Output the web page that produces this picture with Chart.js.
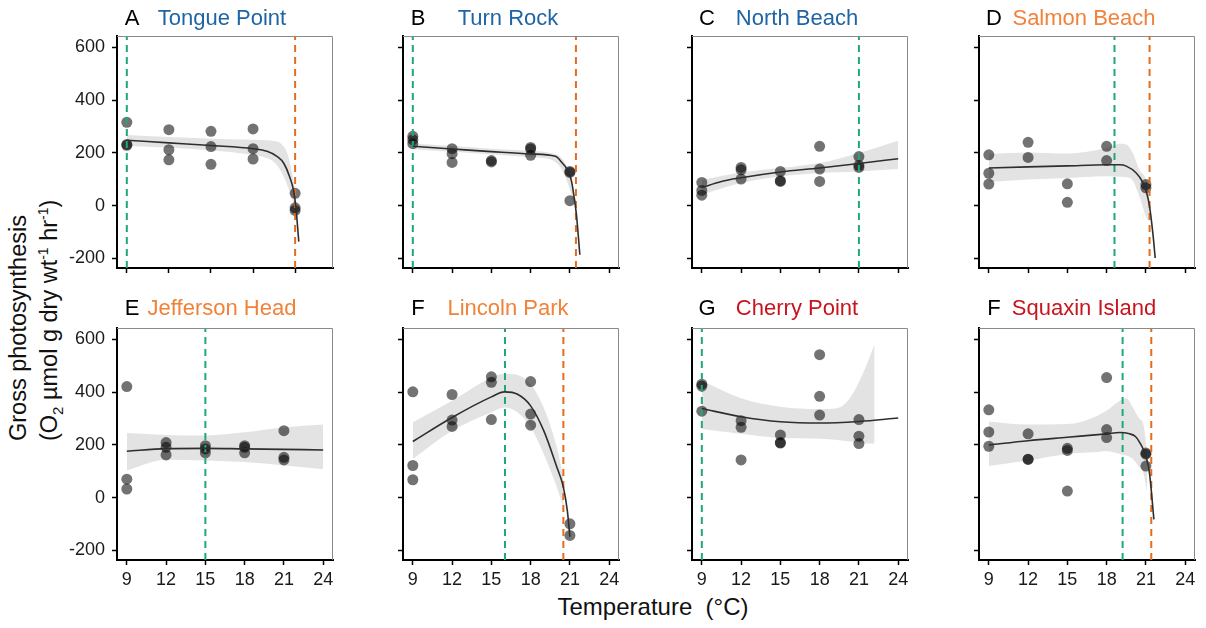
<!DOCTYPE html>
<html>
<head>
<meta charset="utf-8">
<title>Gross photosynthesis vs temperature</title>
<script src="https://cdn.jsdelivr.net/npm/chart.js@4.4.1/dist/chart.umd.min.js"></script>
<style>
  body { margin: 0; background: #fff; }
  #page {
    position: relative; width: 1206px; height: 628px; overflow: hidden;
    font-family: "Liberation Sans", Arial, sans-serif; color: #111;
  }
  #page canvas { position: absolute; }
  .ytitle {
    position: absolute; left: 3px; top: 441px;
    transform-origin: 0 0; transform: rotate(-90deg);
    white-space: nowrap; font-size: 23.5px; line-height: 31px;
  }
  .xtitle {
    position: absolute; left: 503px; width: 300px; top: 593px;
    text-align: center; font-size: 24px; line-height: 28px;
  }
  .lo { position: relative; top: 6px; font-size: 15px; }
  .hi { position: relative; top: -9px; font-size: 14px; }
</style>
</head>
<body>
<div id="page">
  <div class="ytitle">Gross photosynthesis<br>(O<span class="lo">2</span> µmol g dry wt<span class="hi">-1</span> hr<span class="hi">-1</span>)</div>
  <div class="xtitle">Temperature&nbsp; (°C)</div>
</div>
<script>
// axis ticks shared by all panels
const xTicks = [9, 12, 15, 18, 21, 24];
const yTicks = [-200, 0, 200, 400, 600];

// A  Tongue Point
const tonguePtX = [9, 9, 9, 12, 12, 12, 15, 15, 15, 18, 18, 18, 21, 21, 21];
const tonguePtY = [316, 232, 229, 288, 212, 174, 282, 224, 157, 291, 216, 177, 47, -8, -18];
const tongueFitX = [9, 12, 15, 18, 19, 19.7, 20.2, 20.6, 20.9, 21.07, 21.26];
const tongueFitY = [248, 238, 228, 216, 206, 187, 160, 111, 54, -15, -136];
const tongueBandX = [9, 12, 15, 18, 19, 19.5, 20, 20.5, 21];
const tongueBandHi = [268, 260, 254, 250, 248, 245, 235, 190, 60];
const tongueBandLo = [226, 220, 210, 192, 180, 165, 130, 70, -10];
const tongueGreen = [9];
const tongueOrange = [21];

// B  Turn Rock
const turnPtX = [9, 9, 9, 12, 12, 12, 15, 15, 18, 18, 18, 21, 21, 21];
const turnPtY = [263, 250, 235, 216, 197, 164, 171, 166, 221, 215, 191, 130, 126, 19];
const turnFitX = [9, 12, 15, 18, 19.9, 20.4, 20.8, 21.1, 21.3, 21.5, 21.76];
const turnFitY = [225, 215, 205, 196, 187, 163, 137, 98, 40, -35, -186];
const turnBandX = [9, 12, 15, 18, 19.5, 20.2, 20.6, 21, 21.3];
const turnBandHi = [236, 226, 216, 208, 200, 188, 165, 125, 65];
const turnBandLo = [214, 204, 194, 184, 176, 150, 115, 60, 5];
const turnGreen = [9];
const turnOrange = [21.46];

// C  North Beach
const northPtX = [9, 9, 9, 12, 12, 12, 15, 15, 15, 18, 18, 18, 21, 21, 21];
const northPtY = [88, 58, 40, 145, 136, 101, 130, 95, 92, 225, 139, 92, 186, 153, 145];
const northFitX = [9, 10.5, 12, 15, 18, 21, 24];
const northFitY = [69, 92, 106, 128, 143, 160, 178];
const northBandX = [9, 12, 15, 18, 21, 24];
const northBandHi = [98, 126, 143, 162, 200, 246];
const northBandLo = [42, 86, 111, 124, 130, 139];
const northGreen = [21];
const northOrange = [];

// D  Salmon Beach
const salmonPtX = [9, 9, 9, 12, 12, 15, 15, 18, 18, 21, 21];
const salmonPtY = [193, 123, 82, 240, 183, 83, 13, 225, 171, 80, 68];
const salmonFitX = [9, 12, 15, 18, 19, 19.5, 20.26, 20.72, 21.03, 21.28, 21.53, 21.71];
const salmonFitY = [143, 147, 151, 155, 155, 150, 124, 92, 54, -3, -104, -198];
const salmonBandX = [9, 12, 15, 18, 19, 19.5, 20, 20.5, 21, 21.25];
const salmonBandHi = [196, 202, 198, 220, 235, 232, 200, 136, 99, 40];
const salmonBandLo = [90, 99, 105, 112, 110, 108, 95, 35, -40, -60];
const salmonGreen = [18.6];
const salmonOrange = [21.28];

// E  Jefferson Head
const jeffPtX = [9, 9, 9, 12, 12, 12, 15, 15, 15, 18, 18, 18, 21, 21, 21];
const jeffPtY = [421, 70, 33, 209, 191, 162, 197, 185, 170, 197, 191, 170, 254, 153, 143];
const jeffFitX = [9, 12, 15, 18, 21, 24];
const jeffFitY = [176, 186, 187, 185, 183, 181];
const jeffBandX = [9, 12, 15, 18, 21, 24];
const jeffBandHi = [245, 238, 236, 248, 266, 277];
const jeffBandLo = [103, 144, 141, 135, 122, 108];
const jeffGreen = [15];
const jeffOrange = [];

// F  Lincoln Park
const lincolnPtX = [9, 9, 9, 12, 12, 12, 15, 15, 15, 18, 18, 18, 21, 21];
const lincolnPtY = [401, 122, 68, 391, 294, 270, 458, 437, 296, 440, 317, 275, -99, -143];
const lincolnFitX = [9, 12, 15, 16, 17, 18, 19, 20, 20.5, 20.8, 21];
const lincolnFitY = [213, 304, 382, 401, 392, 348, 254, 116, 40, -48, -148];
const lincolnBandX = [9, 12, 15, 16, 17, 18, 19, 20, 20.5];
const lincolnBandHi = [286, 367, 455, 470, 465, 430, 342, 191, 78];
const lincolnBandLo = [147, 254, 323, 342, 323, 267, 166, 40, -35];
const lincolnGreen = [16.04];
const lincolnOrange = [20.5];

// G  Cherry Point
const cherryPtX = [9, 9, 9, 12, 12, 12, 15, 15, 15, 18, 18, 18, 21, 21, 21];
const cherryPtY = [430, 423, 328, 292, 267, 143, 238, 209, 207, 542, 384, 313, 296, 233, 205];
const cherryFitX = [9, 12, 15, 18, 21, 24];
const cherryFitY = [338, 307, 288, 283, 289, 302];
const cherryBandX = [9, 12, 15, 18, 19.5, 20.5, 21.5, 22.2];
const cherryBandHi = [443, 377, 345, 336, 342, 392, 493, 581];
const cherryBandLo = [260, 242, 226, 223, 218, 212, 206, 204];
const cherryGreen = [9];
const cherryOrange = [];

// F  Squaxin Island
const squaxinPtX = [9, 9, 9, 12, 12, 12, 15, 15, 15, 18, 18, 18, 21, 21, 21];
const squaxinPtY = [333, 249, 195, 242, 146, 145, 187, 179, 25, 455, 258, 228, 169, 165, 120];
const squaxinFitX = [9, 12, 15, 18, 19, 19.75, 20.2, 20.52, 21.03, 21.28, 21.61];
const squaxinFitY = [200, 216, 229, 242, 247, 242, 232, 210, 153, 90, -82];
const squaxinBandX = [9, 12, 15, 17, 18, 19, 19.5, 20, 20.5, 20.8, 21.1];
const squaxinBandHi = [289, 277, 279, 304, 330, 367, 377, 342, 300, 280, 170];
const squaxinBandLo = [120, 141, 166, 172, 176, 166, 160, 147, 116, 95, 20];
const squaxinGreen = [19.22];
const squaxinOrange = [21.41];

const BLUE = '#1f64a3', ORANGE_TXT = '#f0823a', RED = '#c8141f';
const GREEN = '#1fa67d', ORANGE = '#e46c1c';
const DOT = 'rgba(0,0,0,0.55)', BAND = 'rgba(0,0,0,0.11)';
const Y_MIN = -236, Y_MAX = 643;

// plot-area placement of the 4 x 2 grid
const COL_LEFT = [117, 403, 692, 979];
const ROW_TOP = [36, 328];
const PLOT_W = 216, PLOT_H = 232;
const AXIS_W = 60, AXIS_H = 40, PAD_TOP = 36, PAD_RIGHT = 8;

const panels = [
  { letter: 'A', name: 'Tongue Point', color: BLUE, col: 0, row: 0, xMin: 8.3, xMax: 23.7,
    ptX: tonguePtX, ptY: tonguePtY, fitX: tongueFitX, fitY: tongueFitY,
    bandX: tongueBandX, bandHi: tongueBandHi, bandLo: tongueBandLo, green: tongueGreen, orange: tongueOrange },
  { letter: 'B', name: 'Turn Rock', color: BLUE, col: 1, row: 0,
    ptX: turnPtX, ptY: turnPtY, fitX: turnFitX, fitY: turnFitY,
    bandX: turnBandX, bandHi: turnBandHi, bandLo: turnBandLo, green: turnGreen, orange: turnOrange },
  { letter: 'C', name: 'North Beach', color: BLUE, col: 2, row: 0,
    ptX: northPtX, ptY: northPtY, fitX: northFitX, fitY: northFitY,
    bandX: northBandX, bandHi: northBandHi, bandLo: northBandLo, green: northGreen, orange: northOrange },
  { letter: 'D', name: 'Salmon Beach', color: ORANGE_TXT, col: 3, row: 0,
    ptX: salmonPtX, ptY: salmonPtY, fitX: salmonFitX, fitY: salmonFitY,
    bandX: salmonBandX, bandHi: salmonBandHi, bandLo: salmonBandLo, green: salmonGreen, orange: salmonOrange },
  { letter: 'E', name: 'Jefferson Head', color: ORANGE_TXT, col: 0, row: 1,
    ptX: jeffPtX, ptY: jeffPtY, fitX: jeffFitX, fitY: jeffFitY,
    bandX: jeffBandX, bandHi: jeffBandHi, bandLo: jeffBandLo, green: jeffGreen, orange: jeffOrange },
  { letter: 'F', name: 'Lincoln Park', color: ORANGE_TXT, col: 1, row: 1,
    ptX: lincolnPtX, ptY: lincolnPtY, fitX: lincolnFitX, fitY: lincolnFitY,
    bandX: lincolnBandX, bandHi: lincolnBandHi, bandLo: lincolnBandLo, green: lincolnGreen, orange: lincolnOrange },
  { letter: 'G', name: 'Cherry Point', color: RED, col: 2, row: 1,
    ptX: cherryPtX, ptY: cherryPtY, fitX: cherryFitX, fitY: cherryFitY,
    bandX: cherryBandX, bandHi: cherryBandHi, bandLo: cherryBandLo, green: cherryGreen, orange: cherryOrange },
  { letter: 'F', name: 'Squaxin Island', color: RED, col: 3, row: 1,
    ptX: squaxinPtX, ptY: squaxinPtY, fitX: squaxinFitX, fitY: squaxinFitY,
    bandX: squaxinBandX, bandHi: squaxinBandHi, bandLo: squaxinBandLo, green: squaxinGreen, orange: squaxinOrange }
];

Chart.defaults.font.family = '"Liberation Sans", Arial, sans-serif';
Chart.defaults.color = '#1a1a1a';

// grey frame on top/right plus the panel heading
const panelDecor = {
  id: 'panelDecor',
  afterDraw(chart, args, opts) {
    const { ctx, chartArea: a } = chart;
    ctx.save();
    ctx.strokeStyle = '#8a8a8a';
    ctx.lineWidth = 1;
    ctx.beginPath();
    ctx.moveTo(a.left, a.top + 0.5);
    ctx.lineTo(a.right - 0.5, a.top + 0.5);
    ctx.lineTo(a.right - 0.5, a.bottom);
    ctx.stroke();

    ctx.font = '22px "Liberation Sans", Arial, sans-serif';
    ctx.textBaseline = 'middle';
    ctx.textAlign = 'center';
    const y = a.top - opts.dy;
    ctx.fillStyle = '#000';
    ctx.fillText(opts.letter, a.left + 15, y);
    ctx.fillStyle = opts.color;
    ctx.fillText(opts.name, (a.left + a.right) / 2 - 3, y);
    ctx.restore();
  }
};

const toXY = (xs, ys) => xs.map((x, i) => ({ x: x, y: ys[i] }));

function vline(x, color) {
  return {
    data: [{ x: x, y: Y_MIN }, { x: x, y: Y_MAX }],
    borderColor: color, borderWidth: 2, borderDash: [7, 5],
    pointRadius: 0, fill: false, order: 2
  };
}

const page = document.getElementById('page');

panels.forEach(p => {
  const canvas = document.createElement('canvas');
  canvas.width = AXIS_W + PLOT_W + PAD_RIGHT;
  canvas.height = PAD_TOP + PLOT_H + AXIS_H;
  canvas.style.left = (COL_LEFT[p.col] - AXIS_W) + 'px';
  canvas.style.top = (ROW_TOP[p.row] - PAD_TOP) + 'px';
  page.appendChild(canvas);

  const datasets = [
    { data: toXY(p.bandX, p.bandLo), borderWidth: 0, pointRadius: 0, fill: false,
      cubicInterpolationMode: 'monotone', order: 4 },
    { data: toXY(p.bandX, p.bandHi), borderWidth: 0, pointRadius: 0, fill: '-1',
      backgroundColor: BAND, cubicInterpolationMode: 'monotone', order: 4 },
    { data: toXY(p.ptX, p.ptY), showLine: false, pointRadius: 5.5, pointBorderWidth: 0,
      pointBackgroundColor: DOT, order: 3 },
    ...p.green.map(x => vline(x, GREEN)),
    ...p.orange.map(x => vline(x, ORANGE)),
    { data: toXY(p.fitX, p.fitY), borderColor: '#2e2e2e', borderWidth: 1.6, pointRadius: 0,
      fill: false, cubicInterpolationMode: 'monotone', order: 1 }
  ];

  new Chart(canvas, {
    type: 'line',
    data: { datasets: datasets },
    plugins: [panelDecor],
    options: {
      responsive: false,
      animation: false,
      devicePixelRatio: 1,
      events: [],
      layout: { padding: { top: PAD_TOP, right: PAD_RIGHT, left: 0, bottom: 0 } },
      plugins: {
        legend: { display: false },
        tooltip: { enabled: false },
        panelDecor: { letter: p.letter, name: p.name, color: p.color, dy: p.row === 0 ? 17 : 19 }
      },
      scales: {
        x: {
          type: 'linear',
          min: p.xMin !== undefined ? p.xMin : 8.25,
          max: p.xMax !== undefined ? p.xMax : 24.75,
          afterBuildTicks: s => { s.ticks = xTicks.filter(v => v >= s.min && v <= s.max).map(v => ({ value: v })); },
          afterFit: s => { s.height = AXIS_H; s.paddingLeft = 0; s.paddingRight = 0; },
          ticks: { display: p.row === 1, font: { size: 18 }, padding: 4, maxRotation: 0 },
          grid: { drawOnChartArea: false, drawTicks: true, tickLength: 5, tickWidth: 1.5, tickColor: '#000' },
          border: { display: true, color: '#000', width: 2 }
        },
        y: {
          min: Y_MIN,
          max: Y_MAX,
          afterBuildTicks: s => { s.ticks = yTicks.map(v => ({ value: v })); },
          afterFit: s => { s.width = AXIS_W; s.paddingTop = 0; s.paddingBottom = 0; },
          ticks: { display: p.col === 0, font: { size: 18 }, padding: 7 },
          grid: { drawOnChartArea: false, drawTicks: true, tickLength: 5, tickWidth: 1.5, tickColor: '#000' },
          border: { display: true, color: '#000', width: 2 }
        }
      }
    }
  });
});
</script>
</body>
</html>
